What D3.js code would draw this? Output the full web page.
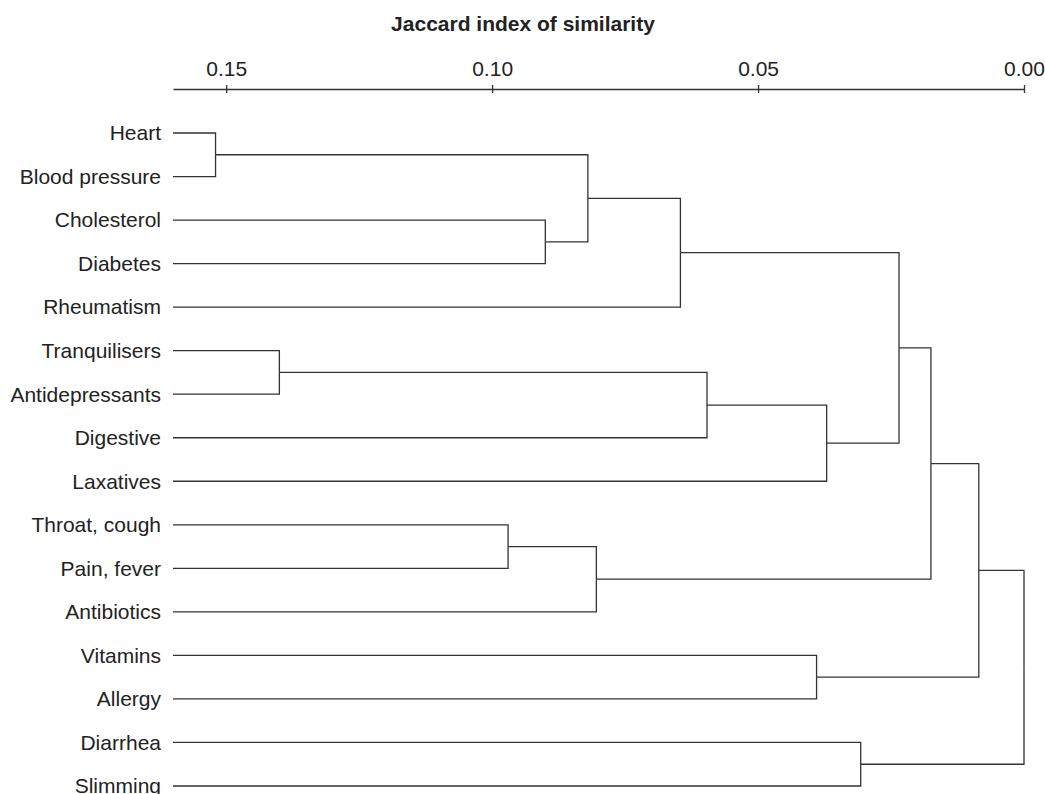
<!DOCTYPE html>
<html>
<head>
<meta charset="utf-8">
<script src="https://cdn.jsdelivr.net/npm/d3@7"></script>
<style>
	body { margin: 0; background: #fff; }
	svg text { font-family: "Liberation Sans", Arial, sans-serif; fill: #222; }
	.dendro_link { fill: none; stroke: #333; stroke-width: 1.3; }
	.dendro_axis path, .dendro_axis line { stroke: #333; stroke-width: 1.3; }
</style>
</head>
<body>
<div id="chart"></div>
<script>
// leaves, top to bottom
var labels = ['Heart', 'Blood pressure', 'Cholesterol', 'Diabetes', 'Rheumatism',
	'Tranquilisers', 'Antidepressants', 'Digestive', 'Laxatives',
	'Throat, cough', 'Pain, fever', 'Antibiotics', 'Vitamins', 'Allergy',
	'Diarrhea', 'Slimming'];

// linkage: [left, right, similarity]; ids >= labels.length point to earlier rows
var linkage = [
	[0, 1, 0.152],    // 16
	[2, 3, 0.090],    // 17
	[16, 17, 0.082],  // 18
	[18, 4, 0.0646],  // 19
	[5, 6, 0.140],    // 20
	[20, 7, 0.0596],  // 21
	[21, 8, 0.0371],  // 22
	[19, 22, 0.0235], // 23
	[9, 10, 0.097],   // 24
	[24, 11, 0.0804], // 25
	[23, 25, 0.0175], // 26
	[12, 13, 0.039],  // 27
	[26, 27, 0.0085], // 28
	[14, 15, 0.0307], // 29
	[28, 29, 0.0]     // 30
];

var tickValues = [0.15, 0.10, 0.05, 0.00];
var axisTitle = 'Jaccard index of similarity';

(function ()	{
	'use strict';

	var width = 1045, height = 794;
	var leafValue = 0.16;
	var fontSize = '21px';

	function buildTree ()	{
		var nodes = labels.map(function (name)	{
			return { name: name, value: leafValue };
		});
		linkage.forEach(function (row)	{
			nodes.push({ children: [nodes[row[0]], nodes[row[1]]], value: row[2] });
		});
		return nodes[nodes.length - 1];
	}

	var svg = d3.select('#chart').append('svg')
		.attr('width', width)
		.attr('height', height);

	var scale = {
		x: d3.scaleLinear().domain([leafValue, 0]).range([173, 1024]),
		y: d3.scalePoint().domain(labels).range([133, 786])
	};

	var root = d3.hierarchy(buildTree());

	// leaf rows from the point scale, parents in the middle of their children
	root.eachAfter(function (d)	{
		if (d.children)	{
			d.y = (d.children[0].y + d.children[1].y) / 2;
		} else {
			d.y = scale.y(d.data.name);
		}
		d.x = scale.x(d.data.value);
	});

	svg.append('g')
		.selectAll('path')
		.data(root.links())
		.enter().append('path')
		.attr('class', 'dendro_link')
		.attr('d', function (l)	{
			return 'M' + l.target.x + ',' + l.target.y +
				'H' + l.source.x + 'V' + l.source.y;
		});

	svg.append('g')
		.selectAll('text')
		.data(root.leaves())
		.enter().append('text')
		.attr('x', 161)
		.attr('y', function (d) { return d.y; })
		.attr('dy', '0.35em')
		.attr('text-anchor', 'end')
		.style('font-size', fontSize)
		.text(function (d) { return d.data.name; });

	var axis = d3.axisTop(scale.x)
		.tickValues(tickValues)
		.tickFormat(d3.format('.2f'))
		.tickSizeInner(4)
		.tickSizeOuter(0)
		.tickPadding(9);

	var gx = svg.append('g')
		.attr('class', 'dendro_axis')
		.attr('transform', 'translate(0,89)')
		.call(axis);

	gx.selectAll('.tick line').attr('y1', 4).attr('y2', -4);
	gx.selectAll('.tick text')
		.attr('fill', '#222')
		.style('font-size', fontSize)
		.style('font-family', '"Liberation Sans", Arial, sans-serif');

	svg.append('text')
		.attr('x', 523)
		.attr('y', 31)
		.attr('text-anchor', 'middle')
		.style('font-size', fontSize)
		.style('font-weight', 'bold')
		.text(axisTitle);
})();
</script>
</body>
</html>
